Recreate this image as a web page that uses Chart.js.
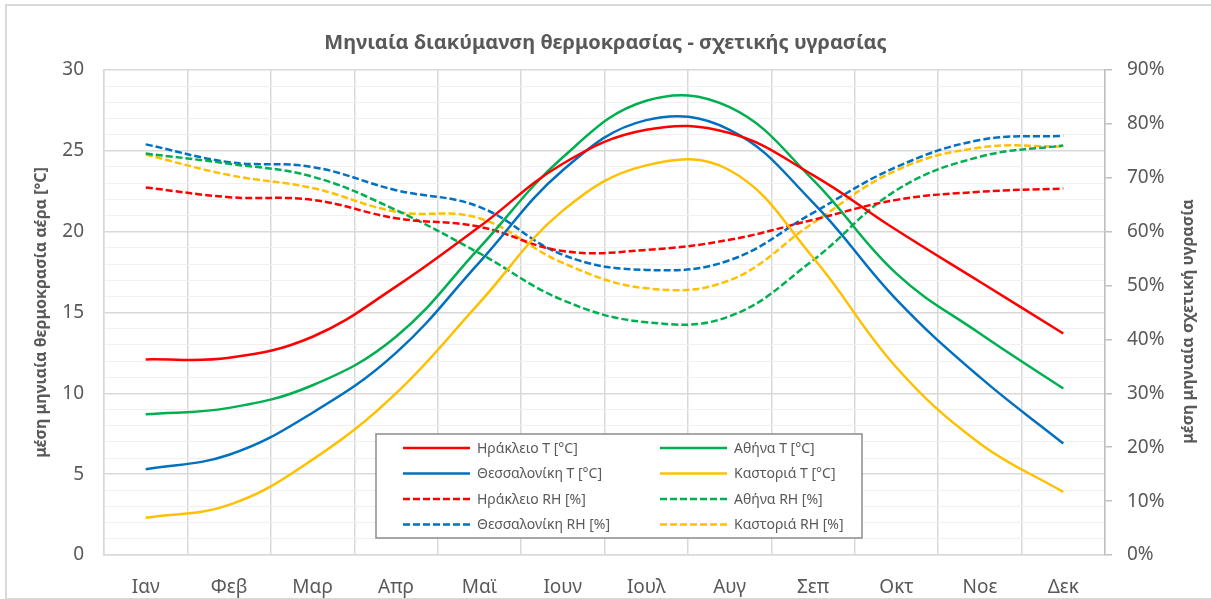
<!DOCTYPE html>
<html>
<head>
<meta charset="utf-8">
<script src="https://cdn.jsdelivr.net/npm/chart.js@4/dist/chart.umd.min.js"></script>
<style>
  html, body { margin: 0; padding: 0; background: #fff; }
  #wrap { position: relative; width: 1211px; height: 599px; overflow: hidden; }
  #frame { position: absolute; left: 5px; top: 4px; width: 1300px; height: 592px; border: 2px solid #d9d9d9; }
  canvas { position: absolute; left: 0; top: 0; }
</style>
</head>
<body>
<div id="wrap">
  <div id="frame"></div>
  <canvas id="chart" width="1211" height="599"></canvas>
</div>
<script>
// μήνες
const months = ["Ιαν", "Φεβ", "Μαρ", "Απρ", "Μαϊ", "Ιουν", "Ιουλ", "Αυγ", "Σεπ", "Οκτ", "Νοε", "Δεκ"];

// μέση μηνιαία θερμοκρασία [°C]
const heraklionT = [12.1, 12.2, 13.5, 16.6, 20.3, 24.2, 26.3, 26.1, 23.5, 20.1, 16.9, 13.7];
const athensT = [8.7, 9.1, 10.5, 13.5, 19.0, 24.6, 28.1, 27.7, 23.2, 17.4, 13.7, 10.3];
const thessT = [5.3, 6.2, 8.8, 12.5, 18.1, 23.8, 26.9, 26.3, 21.8, 15.8, 11.0, 6.9];
const kastoriaT = [2.3, 3.1, 5.9, 10.0, 15.6, 21.3, 24.1, 23.8, 18.4, 11.6, 6.9, 3.9];

// μέση μηνιαία σχετική υγρασία [%]
const heraklionRH = [68.2, 66.4, 65.9, 62.5, 60.9, 56.4, 56.6, 58.5, 62.2, 65.9, 67.4, 68.0];
const athensRH = [74.5, 72.6, 70.2, 64.0, 56.0, 47.3, 43.2, 44.3, 54.7, 67.7, 73.9, 76.0];
const thessRH = [76.2, 72.9, 72.0, 67.7, 64.6, 55.7, 52.9, 54.7, 63.5, 72.0, 77.0, 77.8];
const kastoriaRH = [74.3, 70.5, 68.1, 63.7, 62.5, 54.2, 49.5, 51.0, 61.6, 71.4, 75.6, 75.8];

const FONT = "'Noto Sans', 'DejaVu Sans', sans-serif";
const GREY = "#595959";

function series(label, data, color, axis, dashed) {
  return {
    label: label,
    data: data,
    borderColor: color,
    backgroundColor: color,
    borderWidth: 2.5,
    borderDash: dashed ? [7, 3] : [],
    pointRadius: 0,
    tension: 0.4,
    fill: false,
    yAxisID: axis
  };
}

// υπόμνημα μέσα στο διάγραμμα
const boxLegend = {
  id: "boxLegend",
  afterDatasetsDraw(chart) {
    const ctx = chart.ctx;
    const a = chart.chartArea;
    const x0 = a.left + 272, y0 = a.top + 364, w = 486, h = 104;
    ctx.save();
    ctx.fillStyle = "#fff";
    ctx.fillRect(x0, y0, w, h);
    ctx.strokeStyle = "#8c8c8c";
    ctx.lineWidth = 1.5;
    ctx.strokeRect(x0, y0, w, h);
    ctx.font = "14px " + FONT;
    ctx.textBaseline = "middle";
    ctx.textAlign = "left";
    chart.data.datasets.forEach((ds, i) => {
      const col = i % 2, row = Math.floor(i / 2);
      const lx = x0 + (col === 0 ? 27 : 284);
      const ly = y0 + 14 + row * 25.5;
      ctx.strokeStyle = ds.borderColor;
      ctx.lineWidth = 2.5;
      ctx.setLineDash(ds.borderDash);
      ctx.beginPath();
      ctx.moveTo(lx, ly);
      ctx.lineTo(lx + 67, ly);
      ctx.stroke();
      ctx.setLineDash([]);
      ctx.fillStyle = GREY;
      ctx.fillText(ds.label, lx + 74, ly + 1);
    });
    ctx.restore();
  }
};

// τίτλος δεξιού άξονα (από κάτω προς τα πάνω)
const rightTitle = {
  id: "rightTitle",
  afterDraw(chart) {
    const ctx = chart.ctx;
    const a = chart.chartArea;
    ctx.save();
    ctx.translate(1188, (a.top + a.bottom) / 2 + 9);
    ctx.rotate(-Math.PI / 2);
    ctx.font = "bold 16px " + FONT;
    ctx.fillStyle = GREY;
    ctx.textAlign = "center";
    ctx.textBaseline = "middle";
    ctx.fillText("μέση μηνιαία σχετική υγρασία", 0, 0);
    ctx.restore();
  }
};

new Chart(document.getElementById("chart"), {
  type: "line",
  data: {
    labels: months,
    datasets: [
      series("Ηράκλειο T [°C]", heraklionT, "#ff0000", "y", false),
      series("Αθήνα T [°C]", athensT, "#00b050", "y", false),
      series("Θεσσαλονίκη T [°C]", thessT, "#0070c0", "y", false),
      series("Καστοριά T [°C]", kastoriaT, "#ffc000", "y", false),
      series("Ηράκλειο RH [%]", heraklionRH, "#ff0000", "y1", true),
      series("Αθήνα RH [%]", athensRH, "#00b050", "y1", true),
      series("Θεσσαλονίκη RH [%]", thessRH, "#0070c0", "y1", true),
      series("Καστοριά RH [%]", kastoriaRH, "#ffc000", "y1", true)
    ]
  },
  options: {
    responsive: false,
    animation: false,
    devicePixelRatio: 1,
    layout: { padding: 0 },
    plugins: {
      legend: { display: false },
      tooltip: { enabled: false },
      title: {
        display: true,
        text: "Μηνιαία διακύμανση θερμοκρασίας - σχετικής υγρασίας",
        color: GREY,
        font: { family: FONT, size: 20, weight: "bold" },
        padding: { top: 31, bottom: 15 }
      }
    },
    scales: {
      x: {
        offset: true,
        grid: { offset: true, color: "#d9d9d9", lineWidth: 1.5, drawTicks: false },
        border: { color: "#d9d9d9", width: 1.5 },
        ticks: { color: GREY, font: { family: FONT, size: 19 }, padding: 21, maxRotation: 0 },
        afterFit: s => { s.height = 44; }
      },
      y: {
        position: "left",
        min: 0,
        max: 30,
        ticks: {
          stepSize: 1,
          autoSkip: false,
          color: GREY,
          font: { family: FONT, size: 19 },
          padding: 20,
          callback: v => (v % 5 === 0 ? v : "")
        },
        grid: {
          drawTicks: false,
          lineWidth: c => (c.tick && c.tick.value % 5 === 0 ? 1.5 : 1),
          color: c => (c.tick && c.tick.value % 5 === 0 ? "#d9d9d9" : "#f0f0f0")
        },
        border: { color: "#d9d9d9", width: 1.5 },
        title: {
          display: true,
          text: "μέση μηνιαία θερμοκρασία αέρα [°C]",
          color: GREY,
          font: { family: FONT, size: 16, weight: "bold" },
          padding: { top: 32, bottom: 0 }
        },
        afterFit: s => { s.width = 104; }
      },
      y1: {
        position: "right",
        min: 0,
        max: 90,
        ticks: {
          stepSize: 10,
          color: GREY,
          font: { family: FONT, size: 19 },
          padding: 15,
          callback: v => v + "%"
        },
        grid: { drawOnChartArea: false, drawTicks: true, tickLength: 7, color: "#bfbfbf", lineWidth: 1.5 },
        border: { color: "#bfbfbf", width: 1.5 },
        afterFit: s => { s.width = 106; }
      }
    }
  },
  plugins: [boxLegend, rightTitle]
});
</script>
</body>
</html>
